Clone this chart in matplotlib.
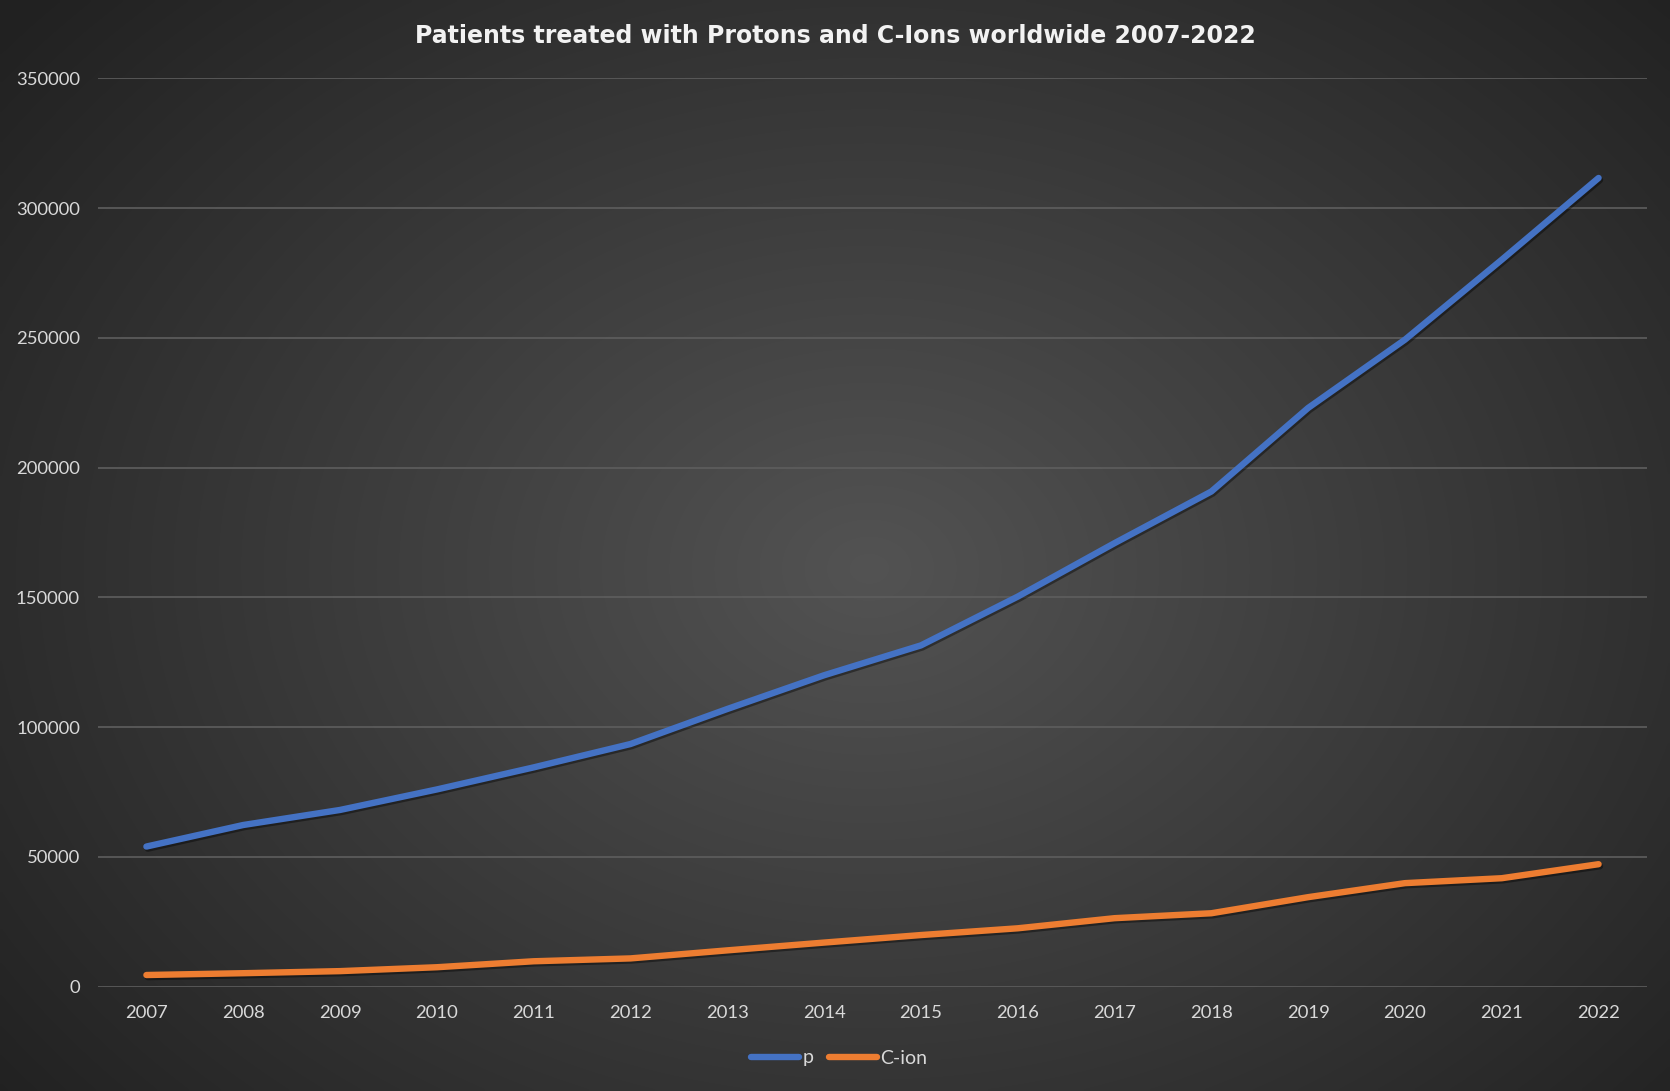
import numpy as np
import matplotlib
matplotlib.use("Agg")
import matplotlib.pyplot as plt
import matplotlib.patheffects as pe

years = ["2007", "2008", "2009", "2010", "2011", "2012", "2013", "2014",
         "2015", "2016", "2017", "2018", "2019", "2020", "2021", "2022"]
protons = [54000, 62300, 68100, 76000, 84500, 93500, 107000, 120000,
           131500, 150300, 170900, 190800, 223000, 249300, 280100, 311600]
carbon = [4500, 5200, 6000, 7500, 9800, 10900, 14000, 17000,
          19900, 22500, 26400, 28300, 34500, 39900, 41800, 47200]
yticks = [0, 50000, 100000, 150000, 200000, 250000, 300000, 350000]
title = "Patients treated with Protons and C-Ions worldwide 2007-2022"

plt.rcParams['font.family'] = ['Lato', 'DejaVu Sans']

W, H = 1670, 1091
fig = plt.figure(figsize=(W / 100, H / 100), dpi=100)

# radial gradient background
bg = fig.add_axes([0, 0, 1, 1], zorder=-10)
yy, xx = np.mgrid[0:H:4, 0:W:4]
cx, cy = W * 0.52, H * 0.52
r = np.sqrt(((xx - cx) / (W * 0.62)) ** 2 + ((yy - cy) / (H * 0.72)) ** 2)
val = np.clip(0.325 - 0.18 * r, 0.13, 0.35)
img = np.dstack([val, val, val])
bg.imshow(img, aspect='auto', extent=[0, 1, 0, 1], interpolation='bilinear')
bg.axis('off')

ax = fig.add_axes([98 / W, 1 - 986.7 / H, (1647 - 98) / W, (986.7 - 78.3) / H])
ax.patch.set_alpha(0)
x = np.arange(len(years))
shadow = [pe.SimpleLineShadow(offset=(1.0, -1.5), shadow_color='black', alpha=0.4), pe.Normal()]
ax.plot(x, protons, color='#4472C4', lw=4.6, solid_capstyle='round',
        solid_joinstyle='round', label='p', path_effects=shadow, zorder=3)
ax.plot(x, carbon, color='#ED7D31', lw=4.6, solid_capstyle='round',
        solid_joinstyle='round', label='C-ion', path_effects=shadow, zorder=3)

ax.set_xlim(-0.5, len(years) - 0.5)
ax.set_ylim(0, 350000)
ax.set_yticks(yticks)
ax.set_yticklabels([str(v) for v in yticks])
ax.set_xticks(x)
ax.set_xticklabels(years)
ax.grid(axis='y', color='#5e5e5e', lw=1.2)
ax.set_axisbelow(True)
for s in ax.spines.values():
    s.set_visible(False)
ax.tick_params(axis='both', length=0, colors='#d9d9d9', labelsize=13.3)
ax.tick_params(axis='y', pad=13)
ax.tick_params(axis='x', pad=13)

fig.text(835 / W, 1 - 36 / H, title, ha='center', va='center', color='#f2f2f2',
         fontsize=17, fontweight='bold', family=['DejaVu Sans'])

leg = fig.legend(loc='center', bbox_to_anchor=(839 / W, 1 - 1058 / H), ncol=2,
                 frameon=False, fontsize=14, handlelength=2.5, handletextpad=0.15,
                 columnspacing=0.8, labelcolor='#d9d9d9')
for h in leg.legend_handles:
    h.set_path_effects([])

fig.savefig('out.png', dpi=100)
